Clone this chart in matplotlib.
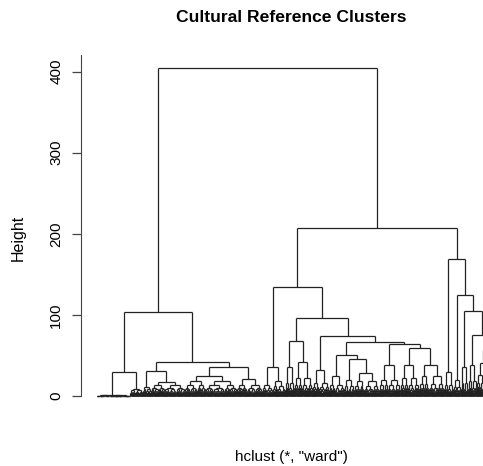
import numpy as np
import matplotlib
matplotlib.use("Agg")
import matplotlib.pyplot as plt
from matplotlib.collections import LineCollection

plt.rcParams['font.family'] = ['Liberation Sans', 'DejaVu Sans']

# merge heights of the upper part of the tree
# node = [height, left, right]; strings name the small clusters below
tree = [405,
        [104,
         [30, "LLa", "LLb"],
         [42,
          [31, "LR1a", "LR1b"],
          [36, "LR2a", "LR2b"]]],
        [207,
         [134,
          [36, "R1a1", "R1a2"],
          [96,
           [68, "c286", "c299"],
           [74, "c316",
            [66,
             [50, "c333", [45, "c342", "c360"]],
             [64, "c383", [59, "c403", "c433"]]]]]],
         [168.6, "c448",
          [124, "c457",
           [105, "c463",
            [75, "c470", "c_right"]]]]]]

# small clusters at the bottom: number of leaves and merge height per level
cluster_sizes = {
    "LLa": 96, "LLb": 36, "LR1a": 24, "LR1b": 96, "LR2a": 150, "LR2b": 72,
    "R1a1": 30, "R1a2": 36, "c286": 27, "c299": 51, "c316": 48, "c333": 42,
    "c342": 30, "c360": 72, "c383": 60, "c403": 54, "c433": 72, "c448": 27,
    "c457": 21, "c463": 21, "c470": 24, "c_right": 93,
}
cluster_levels = {
    "LLa": [0.8, 0.5, 0.4, 0.3, 0.2, 0.1],
    "LLb": [9, 7, 5, 4, 3, 2],
    "LR1a": [11, 8, 6, 4, 3, 2],
    "LR1b": [17, 13, 10, 8, 6, 5, 4, 3, 2],
    "LR2a": [24, 18, 13, 10, 8, 6, 5, 4, 3, 2],
    "LR2b": [21, 14, 10, 8, 6, 5, 4, 3, 2],
    "R1a1": [14, 10, 7, 5, 4, 3, 2],
    "R1a2": [18, 12, 8, 6, 4, 3, 2],
    "c286": [36, 16, 10, 7, 5, 3, 2],
    "c299": [42, 22, 14, 10, 7, 5, 4, 3, 2],
    "c316": [32, 16, 11, 8, 6, 4, 3, 2],
    "c333": [24, 14, 10, 7, 5, 4, 3, 2],
    "c342": [20, 12, 8, 6, 4, 3, 2],
    "c360": [28, 18, 12, 9, 7, 5, 4, 3, 2],
    "c383": [38, 20, 13, 9, 7, 5, 4, 3, 2],
    "c403": [38, 22, 14, 10, 7, 5, 4, 3, 2],
    "c433": [38, 24, 15, 10, 8, 6, 5, 4, 3, 2],
    "c448": [30, 14, 9, 6, 4, 3, 2],
    "c457": [20, 11, 7, 5, 3, 2],
    "c463": [36, 16, 9, 6, 4, 2],
    "c470": [38, 18, 10, 7, 5, 3, 2],
    "c_right": [56, 40, 26, 16, 11, 8, 6, 5, 4, 3, 2],
}

title = "Cultural Reference Clusters"
xlab = 'hclust (*, "ward")'
ylab = "Height"
yticks = [0, 100, 200, 300, 400]


def build_cluster(n, levels, depth=0):
    """turn a leaf count and per-level heights into a nested node"""
    if n == 1:
        return None
    h = levels[min(depth, len(levels) - 1)]
    left = max(1, n * (2 if depth % 2 == 0 else 3) // 5)
    return [h, build_cluster(left, levels, depth + 1),
            build_cluster(n - left, levels, depth + 1)]


def expand(node):
    if isinstance(node, str):
        return build_cluster(cluster_sizes[node], cluster_levels[node])
    if node is None:
        return None
    return [node[0], expand(node[1]), expand(node[2])]


segs = []
counter = [0]


def layout(node):
    """returns (x, height) of node and stores its line segments"""
    if node is None:
        counter[0] += 1
        return counter[0], 0.0
    h, l, r = node
    xl, hl = layout(l)
    xr, hr = layout(r)
    segs.append([(xl, hl), (xl, h)])
    segs.append([(xl, h), (xr, h)])
    segs.append([(xr, h), (xr, hr)])
    return (xl + xr) / 2.0, h


full = expand(tree)
layout(full)
n_leaves = counter[0]

W, H = 483, 466
fig = plt.figure(figsize=(W / 100, H / 100), dpi=100)
# plot region is wider than the picture, the right end is cut off
pad = 0.04 * (n_leaves - 1)
ax_w = 445.0 / W
ax = fig.add_axes([80.5 / W, (H - 409) / H, ax_w, (409 - 54.5) / H])
ax.add_collection(LineCollection(segs, colors="#222222", linewidths=0.9))
ax.set_xlim(1 - pad, n_leaves + pad)
ax.set_ylim(-16.2, 421.2)

for s in ["top", "right", "bottom"]:
    ax.spines[s].set_visible(False)
ax.spines["left"].set_bounds(0, 421.2)
ax.spines["left"].set_color("#444444")
ax.set_xticks([])
ax.set_yticks(yticks)
ax.set_yticklabels([str(t) for t in yticks], rotation=90, va="center", fontsize=11)
ax.tick_params(axis="y", length=6.5, width=0.9, color="#444444", pad=6)

fig.text(291 / W, 1 - 18 / H, title, ha="center", va="center",
         fontsize=12.6, fontweight="bold")
fig.text(291 / W, 1 - 457 / H, xlab, ha="center", va="center", fontsize=11)
fig.text(18 / W, 1 - 238 / H, ylab, ha="center", va="center",
         rotation=90, fontsize=11.5)

fig.savefig("out.png", dpi=100)
